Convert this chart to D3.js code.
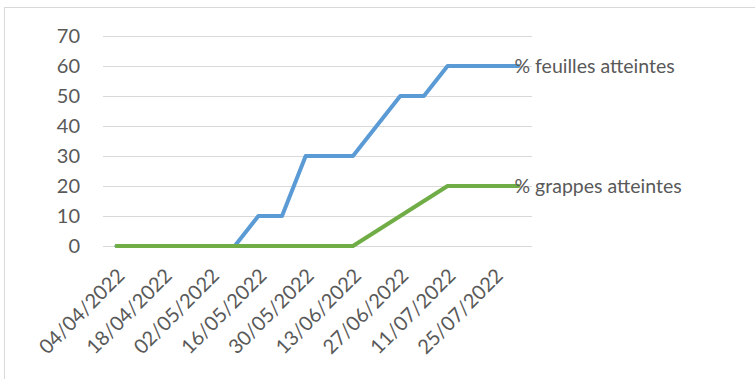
<!DOCTYPE html>
<html>
<head>
<meta charset="utf-8">
<script src="https://cdn.jsdelivr.net/npm/d3@7"></script>
<style>
  html, body { margin: 0; padding: 0; background: #fff; }
  svg { display: block; }
  text { font-family: Lato, "Noto Sans", sans-serif; fill: #595959; }
</style>
</head>
<body>
<svg id="chart" width="755" height="379"></svg>
<script>
// Observation dates (weekly) and percentages of affected leaves / bunches
const dates = [
  "04/04/2022", "11/04/2022", "18/04/2022", "25/04/2022", "02/05/2022",
  "09/05/2022", "16/05/2022", "23/05/2022", "30/05/2022", "06/06/2022",
  "13/06/2022", "20/06/2022", "27/06/2022", "04/07/2022", "11/07/2022",
  "18/07/2022", "25/07/2022", "01/08/2022"
];
const feuilles = [0, 0, 0, 0, 0, 0, 10, 10, 30, 30, 30, 40, 50, 50, 60, 60, 60, 60];
const grappes  = [0, 0, 0, 0, 0, 0, 0, 0, 0, 0, 0, 5, 10, 15, 20, 20, 20, 20];

const seriesNames = ["% feuilles atteintes", "% grappes atteintes"];
const seriesColors = ["#5B9BD5", "#70AD47"];

const xTickLabels = [
  "04/04/2022", "18/04/2022", "02/05/2022", "16/05/2022", "30/05/2022",
  "13/06/2022", "27/06/2022", "11/07/2022", "25/07/2022"
];
const yTicks = [0, 10, 20, 30, 40, 50, 60, 70];

const parse = d3.timeParse("%d/%m/%Y");
const svg = d3.select("#chart");

// chart frame
svg.append("rect")
  .attr("x", 4.5).attr("y", 7.5)
  .attr("width", 800).attr("height", 400)
  .attr("fill", "none").attr("stroke", "#D9D9D9").attr("stroke-width", 1);

const plot = { left: 103, right: 532, top: 36, bottom: 246 };

const x = d3.scaleTime()
  .domain([parse("31/03/2022"), parse("05/08/2022")])
  .range([plot.left, plot.right]);
const y = d3.scaleLinear().domain([0, 70]).range([plot.bottom, plot.top]);

// horizontal gridlines
svg.append("g").selectAll("line").data(yTicks).join("line")
  .attr("x1", plot.left).attr("x2", plot.right)
  .attr("y1", d => Math.round(y(d)) + 0.5).attr("y2", d => Math.round(y(d)) + 0.5)
  .attr("stroke", "#D9D9D9").attr("stroke-width", 1);

// y axis labels
const yAxis = d3.axisLeft(y).tickValues(yTicks).tickSize(0).tickPadding(0);
const gy = svg.append("g").attr("transform", "translate(80,0)").call(yAxis);
gy.select(".domain").remove();
gy.selectAll("text").attr("font-size", 20).attr("fill", "#595959")
  .style("font-family", "Lato, 'Noto Sans', sans-serif");

// x axis labels, rotated
const xAxis = d3.axisBottom(x).tickValues(xTickLabels.map(parse))
  .tickFormat(d3.timeFormat("%d/%m/%Y")).tickSize(0).tickPadding(0);
const gx = svg.append("g").attr("transform", "translate(0,272)").call(xAxis);
gx.select(".domain").remove();
gx.selectAll("text")
  .attr("font-size", 20).attr("fill", "#595959")
  .style("font-family", "Lato, 'Noto Sans', sans-serif")
  .attr("text-anchor", "end")
  .attr("y", 0).attr("dy", "0.35em")
  .attr("transform", "translate(4,0) rotate(-45)");

// series lines
const allSeries = [feuilles, grappes];
const line = d3.line()
  .x((d, i) => x(parse(dates[i])))
  .y(d => y(d));

svg.append("g").selectAll("path").data(allSeries).join("path")
  .attr("d", d => line(d))
  .attr("fill", "none")
  .attr("stroke", (d, i) => seriesColors[i])
  .attr("stroke-width", 4)
  .attr("stroke-linejoin", "round")
  .attr("stroke-linecap", "round");

// series labels at the end of each line
svg.append("g").selectAll("text").data(allSeries).join("text")
  .attr("x", (d, i) => x(parse(dates[dates.length - 1])) - 4)
  .attr("y", d => y(d[d.length - 1]))
  .attr("dy", "0.35em")
  .attr("font-size", 19.5)
  .text((d, i) => seriesNames[i]);
</script>
</body>
</html>
